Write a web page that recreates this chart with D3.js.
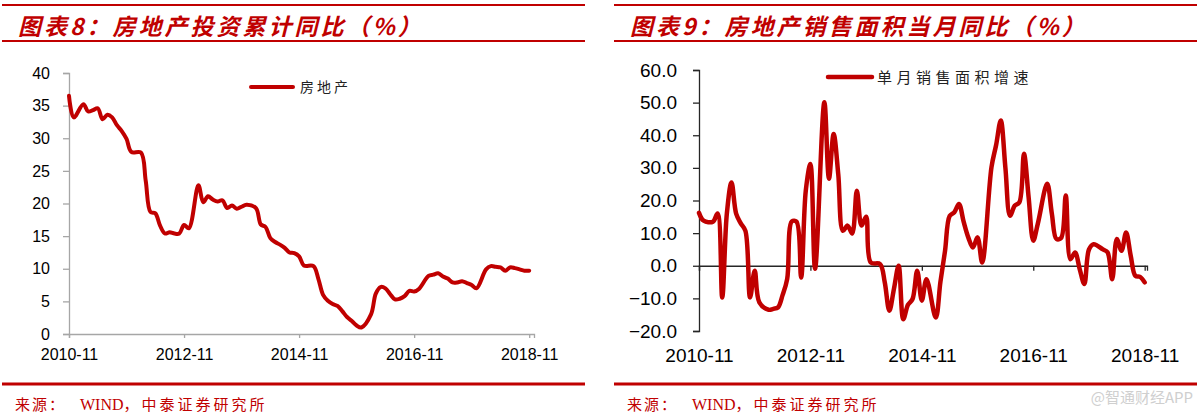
<!DOCTYPE html>
<html>
<head>
<meta charset="utf-8">
<script src="https://cdn.jsdelivr.net/npm/d3@7"></script>
<style>
    body { margin: 0; background: #fff; }
    svg { display: block; }
</style>
</head>
<body>
<script>
// Two panels side by side: cumulative investment YoY (left) and
// single-month sales area YoY (right). Months are strings "yyyy-mm".

// ---- left panel data ----
var invMonths = [
    "2010-11", "2010-12",
    "2011-02", "2011-03", "2011-04", "2011-05", "2011-06", "2011-07",
    "2011-08", "2011-09", "2011-10", "2011-11", "2011-12",
    "2012-02", "2012-03", "2012-04", "2012-05", "2012-06", "2012-07",
    "2012-08", "2012-09", "2012-10", "2012-11", "2012-12",
    "2013-02", "2013-03", "2013-04", "2013-05", "2013-06", "2013-07",
    "2013-08", "2013-09", "2013-10", "2013-11", "2013-12",
    "2014-02", "2014-03", "2014-04", "2014-05", "2014-06", "2014-07",
    "2014-08", "2014-09", "2014-10", "2014-11", "2014-12",
    "2015-02", "2015-03", "2015-04", "2015-05", "2015-06", "2015-07",
    "2015-08", "2015-09", "2015-10", "2015-11", "2015-12",
    "2016-02", "2016-03", "2016-04", "2016-05", "2016-06", "2016-07",
    "2016-08", "2016-09", "2016-10", "2016-11", "2016-12",
    "2017-02", "2017-03", "2017-04", "2017-05", "2017-06", "2017-07",
    "2017-08", "2017-09", "2017-10", "2017-11", "2017-12",
    "2018-02", "2018-03", "2018-04", "2018-05", "2018-06", "2018-07",
    "2018-08", "2018-09", "2018-10", "2018-11"
];
var invValues = [
    36.5, 33.2,
    35.2, 34.1, 34.3, 34.6, 32.9, 33.6, 33.2, 32.0, 31.1, 29.9, 27.9,
    27.8, 23.5, 18.7, 18.5, 16.6, 15.4, 15.6, 15.4, 15.4, 16.7, 16.2,
    22.8, 20.2, 21.1, 20.6, 20.3, 20.5, 19.3, 19.7, 19.2, 19.5, 19.8,
    19.3, 16.8, 16.4, 14.7, 14.1, 13.7, 13.2, 12.5, 12.4, 11.9, 10.5,
    10.4, 8.5, 6.0, 5.1, 4.6, 4.3, 3.5, 2.6, 2.0, 1.3, 1.0,
    3.0, 6.2, 7.2, 7.0, 6.1, 5.3, 5.4, 5.8, 6.6, 6.5, 6.9,
    8.9, 9.1, 9.3, 8.8, 8.5, 7.9, 7.9, 8.1, 7.8, 7.5, 7.0,
    9.9, 10.4, 10.3, 10.2, 9.7, 10.2, 10.1, 9.9, 9.7, 9.7
];
var invTicks = [0, 5, 10, 15, 20, 25, 30, 35, 40];

// ---- right panel data ----
var salesMonths = invMonths;
var salesValues = [
    16.2, 13.8,
    13.5, 16.0, -9.7, 16.0, 25.5, 16.0, 13.0, 10.7, -9.7, -1.5, -11.2,
    -13.5, -13.2, -12.8, -9.0, -4.0, 13.6, 13.5, -3.6, 23.0, 31.2, -0.9,
    50.1, 26.7, 40.4, 28.0, 10.7, 12.3, 9.9, 23.0, 12.3, 15.0, 1.0,
    0.5, -5.0, -13.8, -7.0, 0.0, -16.4, -12.0, -10.2, -1.5, -10.7, -4.1,
    -15.9, -5.0, 4.6, 15.3, 16.4, 18.9, 13.5, 8.7, 5.6, 8.7, 1.0,
    30.2, 37.0, 44.5, 30.0, 15.3, 18.4, 19.4, 34.3, 21.0, 7.7, 13.0,
    25.1, 16.0, 8.2, 8.5, 21.5, 2.0, 4.1, -1.0, -5.6, 5.0, 6.6,
    5.0, 4.1, -4.1, 8.2, 4.6, 10.2, 3.0, -3.1, -3.4, -5.1
];
var salesTicks = [-20, -10, 0, 10, 20, 30, 40, 50, 60];

// shared x tick labels (every 24 months)
var xTickLabels = ["2010-11", "2012-11", "2014-11", "2016-11", "2018-11"];

var RED = "#c00000";

// months since 2010-11
function monthIndex(s) {
    var p = s.split("-");
    return (+p[0] - 2010) * 12 + (+p[1] - 11);
}

var svg = d3.select("body").append("svg")
    .attr("width", 1203)
    .attr("height", 415);

svg.append("rect").attr("width", 1203).attr("height", 415).attr("fill", "#fff");

// ---- panel frame: rules, titles, sources ----
function frame(x0, x1, title, srcX) {
    [[5, 2], [41, 2], [384, 3]].forEach(function(r) {
        svg.append("line")
            .attr("x1", x0).attr("x2", x1)
            .attr("y1", r[0]).attr("y2", r[0])
            .attr("stroke", RED)
            .attr("stroke-width", r[1]);
    });
    svg.append("text")
        .attr("x", x0 + 16)
        .attr("y", 35)
        .attr("font-family", "'Noto Sans CJK SC', sans-serif")
        .attr("font-size", "23px")
        .attr("font-weight", "bold")
        .attr("font-style", "italic")
        .attr("letter-spacing", "3px")
        .attr("fill", RED)
        .text(title);
    svg.append("text")
        .attr("x", srcX)
        .attr("y", 410)
        .attr("font-family", "'Noto Sans CJK SC', sans-serif")
        .attr("font-size", "15px")
        .attr("letter-spacing", "2px")
        .attr("fill", RED)
        .text("来源：");
    var t = svg.append("text")
        .attr("x", srcX + 65)
        .attr("y", 410)
        .attr("font-size", "15px")
        .attr("fill", RED);
    t.append("tspan")
        .attr("font-family", "'Liberation Serif', serif")
        .attr("font-size", "16px")
        .text("WIND");
    t.append("tspan")
        .attr("font-family", "'Noto Sans CJK SC', sans-serif")
        .attr("letter-spacing", "3px")
        .text("，中泰证券研究所");
}

frame(2, 585, "图表8：房地产投资累计同比（%）", 15);
frame(614, 1197, "图表9：房地产销售面积当月同比（%）", 627);

svg.append("text")
    .attr("x", 1193)
    .attr("y", 403)
    .attr("text-anchor", "end")
    .attr("font-family", "'Noto Sans CJK SC', sans-serif")
    .attr("font-size", "15px")
    .attr("fill", "#cfcfcf")
    .text("@智通财经APP");

// ---- left chart ----
var xL = d3.scaleLinear().domain([0, 97]).range([69, 534]);
var yL = d3.scaleLinear().domain([0, 40]).range([334, 73]);

var gL = svg.append("g");

var yAxisL = d3.axisLeft(yL).tickValues(invTicks).tickSize(6).tickPadding(13)
    .tickFormat(function(d) { return d; });
var xAxisL = d3.axisBottom(xL)
    .tickValues(xTickLabels.map(monthIndex))
    .tickSize(4).tickPadding(11)
    .tickFormat(function(d, i) { return xTickLabels[i]; });

gL.append("g").attr("transform", "translate(69,0)").call(yAxisL);
gL.append("g").attr("transform", "translate(0,334)").call(xAxisL);

gL.selectAll(".domain, .tick line").attr("stroke", "#a6a6a6").attr("stroke-width", 1.3);
gL.selectAll(".tick text")
    .attr("font-family", "'Liberation Sans', Arial, sans-serif")
    .attr("font-size", "16px")
    .attr("fill", "#000");

var lineL = d3.line()
    .x(function(d, i) { return xL(monthIndex(invMonths[i])); })
    .y(function(d) { return yL(d); })
    .curve(d3.curveCatmullRom.alpha(0.5));

gL.append("path")
    .datum(invValues)
    .attr("d", lineL)
    .attr("fill", "none")
    .attr("stroke", RED)
    .attr("stroke-width", 4)
    .attr("stroke-linejoin", "round")
    .attr("stroke-linecap", "round");

// legend
gL.append("line")
    .attr("x1", 251).attr("x2", 293).attr("y1", 87).attr("y2", 87)
    .attr("stroke", RED).attr("stroke-width", 4).attr("stroke-linecap", "round");
gL.append("text")
    .attr("x", 300).attr("y", 92)
    .attr("font-family", "'Noto Sans CJK SC', sans-serif")
    .attr("font-size", "14px")
    .attr("letter-spacing", "3px")
    .attr("fill", "#222")
    .text("房地产");

// ---- right chart ----
var xR = d3.scaleLinear().domain([0, 96.5]).range([699, 1147]);
var yR = d3.scaleLinear().domain([-20, 60]).range([331, 70]);

var gR = svg.append("g");

var yAxisR = d3.axisLeft(yR).tickValues(salesTicks).tickSize(6).tickPadding(16)
    .tickFormat(d3.format(".1f"));
var xAxisR = d3.axisBottom(xR)
    .tickValues(xTickLabels.map(monthIndex))
    .tickSize(5).tickPadding(78)
    .tickFormat(function(d, i) { return xTickLabels[i]; });

gR.append("g").attr("transform", "translate(699,0)").call(yAxisR);
gR.append("g").attr("transform", "translate(0," + yR(0) + ")").call(xAxisR);

gR.selectAll(".domain, .tick line").attr("stroke", "#262626").attr("stroke-width", 1.3);
gR.selectAll(".tick text")
    .attr("font-family", "'Liberation Sans', Arial, sans-serif")
    .attr("font-size", "19px")
    .attr("fill", "#000");

var lineR = d3.line()
    .x(function(d, i) { return xR(monthIndex(salesMonths[i])); })
    .y(function(d) { return yR(d); })
    .curve(d3.curveCatmullRom.alpha(0.5));

gR.append("path")
    .datum(salesValues)
    .attr("d", lineR)
    .attr("fill", "none")
    .attr("stroke", RED)
    .attr("stroke-width", 4.5)
    .attr("stroke-linejoin", "round")
    .attr("stroke-linecap", "round");

gR.append("line")
    .attr("x1", 828).attr("x2", 872).attr("y1", 77).attr("y2", 77)
    .attr("stroke", RED).attr("stroke-width", 4.5).attr("stroke-linecap", "round");
gR.append("text")
    .attr("x", 877).attr("y", 83)
    .attr("font-family", "'Noto Sans CJK SC', sans-serif")
    .attr("font-size", "15px")
    .attr("letter-spacing", "4.5px")
    .attr("fill", "#222")
    .text("单月销售面积增速");
</script>
</body>
</html>
